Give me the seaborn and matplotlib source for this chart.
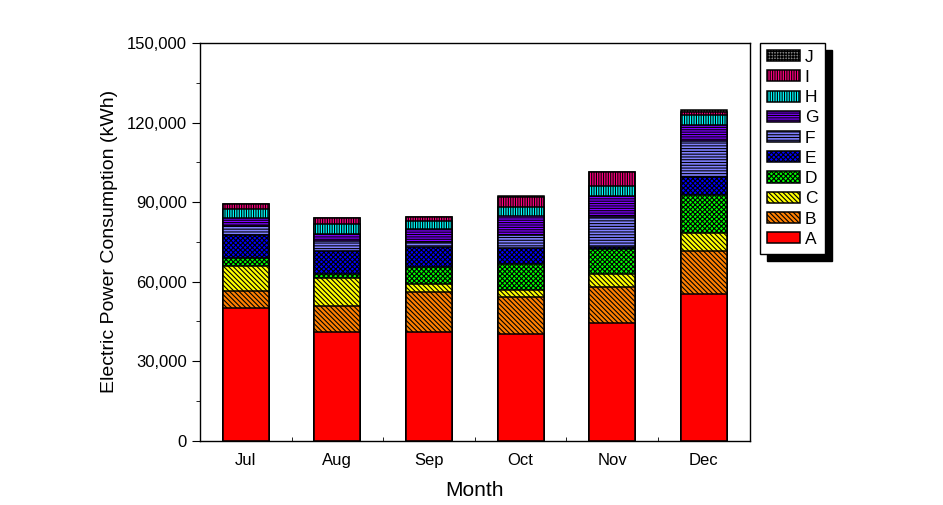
import matplotlib
matplotlib.use("Agg")
import matplotlib.pyplot as plt
import seaborn as sns
import numpy as np
from matplotlib.ticker import StrMethodFormatter, MultipleLocator, FixedLocator

sns.set_style("ticks")
plt.rcParams['font.family'] = ['Liberation Sans', 'DejaVu Sans']
plt.rcParams['hatch.linewidth'] = 0.8
# plain black text and ticks like the original
for key in ['text.color', 'axes.labelcolor', 'xtick.color', 'ytick.color']:
    plt.rcParams[key] = 'black'

# data (kWh)
months = ["Jul", "Aug", "Sep", "Oct", "Nov", "Dec"]
A = [50000, 41000, 41000, 40200, 44400, 55300]
B = [6500, 9800, 15100, 14000, 13500, 16200]
C = [9500, 10500, 2900, 2600, 4900, 6800]
D = [2800, 1500, 6500, 9900, 9400, 14200]
E = [8700, 8900, 7500, 5900, 1000, 6800]
F = [3600, 3800, 1900, 5000, 11300, 13600]
G = [2800, 2500, 4900, 7000, 7900, 6000]
H = [3500, 3600, 3100, 3600, 3700, 4000]
I = [1800, 2300, 1400, 3900, 5100, 900]
J = [200, 200, 200, 200, 200, 900]

names = ["A", "B", "C", "D", "E", "F", "G", "H", "I", "J"]
series = [A, B, C, D, E, F, G, H, I, J]
colors = ["#ff0000", "#ff8000", "#ffff00", "#00ff00", "#0000ff",
          "#8080ff", "#8000ff", "#00ffff", "#ff0080", "#808080"]
hatches = ["", "\\" * 7, "\\" * 7, "x" * 7, "x" * 7, "-" * 6, "-" * 7,
           "|" * 7, "|" * 7, "+" * 6]

# cumulative tops, drawn from the top layer down so lower layers cover
cum = np.cumsum(np.array(series), axis=0)

fig = plt.figure(figsize=(9.43, 5.05), dpi=100)
ax = fig.add_axes([0.212, 0.127, 0.583, 0.788])

for k in range(len(names) - 1, -1, -1):
    sns.barplot(x=months, y=cum[k], color=colors[k], hatch=hatches[k],
                edgecolor="black", linewidth=1.1, width=0.5,
                saturation=1, label=names[k], ax=ax)

ax.set_xlim(-0.5, 5.5)
ax.set_ylim(0, 150000)
ax.yaxis.set_major_locator(MultipleLocator(30000))
ax.yaxis.set_minor_locator(MultipleLocator(15000))
ax.yaxis.set_major_formatter(StrMethodFormatter("{x:,.0f}"))
ax.xaxis.set_minor_locator(FixedLocator([0.5, 1.5, 2.5, 3.5, 4.5]))
ax.tick_params(axis="y", which="major", direction="out", length=6, labelsize=12)
ax.tick_params(axis="y", which="minor", direction="out", length=3)
ax.tick_params(axis="x", which="major", direction="in", length=6, labelsize=12, pad=9)
ax.tick_params(axis="x", which="minor", direction="in", length=3)
for s in ax.spines.values():
    s.set_visible(True)
    s.set_linewidth(1.0)
    s.set_color("black")

ax.set_xlabel("Month", fontsize=15, labelpad=9)
ax.set_ylabel("Electric Power Consumption (kWh)", fontsize=14, labelpad=6)

handles, labels = ax.get_legend_handles_labels()
leg = ax.legend(handles, labels, loc="upper left", bbox_to_anchor=(1.018, 1.0),
                frameon=True, fancybox=False,
                shadow={"color": "black", "alpha": 1, "ox": 5, "oy": -5},
                edgecolor="black",
                fontsize=12.5, handlelength=1.9, handleheight=0.6,
                labelspacing=0.3, handletextpad=0.3, borderpad=0.4,
                borderaxespad=0.0)
leg.get_frame().set_linewidth(1.0)

fig.savefig("out.png", dpi=100)
